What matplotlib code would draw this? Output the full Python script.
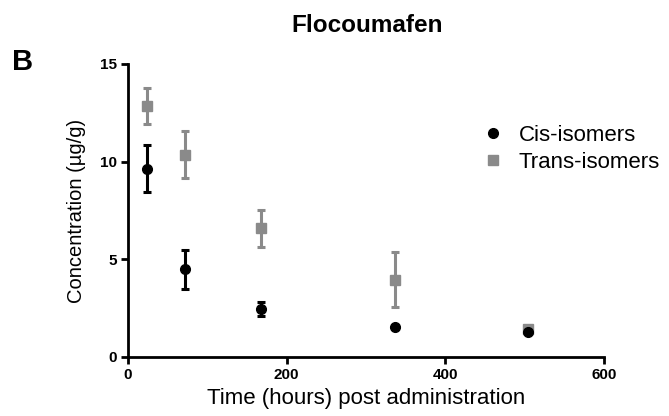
import matplotlib.pyplot as plt
from matplotlib.lines import Line2D

plt.rcParams['font.family'] = ['Liberation Sans', 'DejaVu Sans']

# dados
tempo = [24, 72, 168, 336, 504]
cis = [9.65, 4.5, 2.45, 1.55, 1.3]
cis_erro = [1.2, 1.0, 0.35, 0.05, 0.05]
trans = [12.85, 10.35, 6.6, 3.95, 1.45]
trans_erro = [0.9, 1.2, 0.95, 1.4, 0.05]

cinza = '#8a8a8a'

fig = plt.figure(figsize=(6.69, 4.16), dpi=100)
ax = fig.add_axes([128/669, 1 - 357/416, 476/669, 293/416])

ax.errorbar(tempo, trans, yerr=trans_erro, fmt='s', color=cinza, ms=6.5,
            elinewidth=2.2, capsize=3, capthick=2.2, zorder=2)
ax.errorbar(tempo, cis, yerr=cis_erro, fmt='o', color='black', ms=7,
            elinewidth=2.2, capsize=3, capthick=2.2, zorder=3)

ax.set_xlim(0, 600)
ax.set_ylim(0, 15)
ax.set_xticks([0, 200, 400, 600])
ax.set_yticks([0, 5, 10, 15])
for s in ['top', 'right']:
    ax.spines[s].set_visible(False)
for s in ['left', 'bottom']:
    ax.spines[s].set_linewidth(2)
ax.tick_params(direction='out', width=2, length=5, labelsize=11, pad=3)
for t in ax.get_xticklabels() + ax.get_yticklabels():
    t.set_fontweight('bold')

ax.set_xlabel('Time (hours) post administration', fontsize=16, labelpad=4)
ax.set_ylabel('Concentration (µg/g)', fontsize=14.5, labelpad=10)
fig.text(367/669, 1 - 25/416, 'Flocoumafen', ha='center', va='center',
         fontsize=17.5, fontweight='bold')
fig.text(12/669, 1 - 62/416, 'B', ha='left', va='center', fontsize=21,
         fontweight='bold')

itens = [Line2D([], [], ls='none', marker='o', color='black', ms=7),
         Line2D([], [], ls='none', marker='s', color=cinza, ms=6.5)]
ax.legend(itens, ['Cis-isomers', 'Trans-isomers'], loc='center left',
          bbox_to_anchor=(0.72, 0.71), frameon=False, fontsize=16,
          handletextpad=0.55, labelspacing=0.25, handlelength=1.2,
          borderaxespad=0)

fig.savefig('out.png', dpi=100)
